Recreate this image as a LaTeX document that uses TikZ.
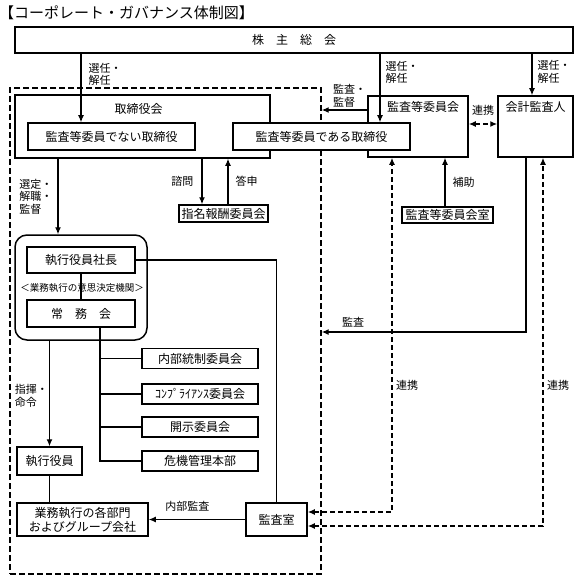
\documentclass[tikz,border=0pt]{standalone}
\usepackage{fontspec}
\setmainfont{Noto Sans CJK JP}
\usetikzlibrary{arrows.meta,positioning}

\begin{document}
\begin{tikzpicture}[x=1pt, y=-1pt,
  box/.style={draw, line width=1.5pt, fill=white, inner sep=0pt, font=\fontsize{12}{14}\selectfont},
  boxlabel/.style={anchor=north, inner sep=0pt, font=\fontsize{12}{14}\selectfont},
  lbl/.style={inner sep=0pt, align=left, font=\fontsize{11}{12.5}\selectfont},
  arr/.style={line width=1.2pt, -{Latex[length=7pt,width=6pt]}},
  dasharr/.style={line width=1.4pt, dash pattern=on 5pt off 3pt, {Latex[length=7pt,width=6pt]}-{Latex[length=7pt,width=6pt]}},
  frame/.style={draw, line width=1.4pt, dash pattern=on 6pt off 3pt, inner sep=0pt}]
\useasboundingbox (0,0) rectangle (581,583);

\node[anchor=west, inner sep=0pt, font=\fontsize{15}{17}\selectfont] (title) at (-1,13) {【コーポレート・ガバナンス体制図】};

% dashed frame of the board side
\node[frame, minimum width=311pt, minimum height=486pt] (boardside) at (165.5,331) {};

\node[box, minimum width=558pt, minimum height=26pt] (soukai) at (294,40) {株　主　総　会};
\node[box, minimum width=255pt, minimum height=63pt,
  label={[boxlabel, yshift=-9pt, xshift=-4pt]north:取締役会}] (torikai) at (142.5,126.5) {};
\node[box, minimum width=167pt, minimum height=27pt] (nondir) at (111.5,136.5) {監査等委員でない取締役};
\node[box, minimum width=100pt, minimum height=61pt,
  label={[boxlabel, yshift=-6pt, xshift=5pt]north:監査等委員会}] (accom) at (418,126.5) {};
\node[box, minimum width=75pt, minimum height=61pt,
  label={[boxlabel, yshift=-6pt]north:会計監査人}] (auditor) at (535.5,126.5) {};
\node[box, minimum width=177pt, minimum height=27pt] (acdir) at (321.5,136.5) {監査等委員である取締役};
\node[box, minimum width=89pt, minimum height=17pt] (nomcom) at (223.5,213.5) {指名報酬委員会};
\node[box, minimum width=91pt, minimum height=16pt] (acoffice) at (447.5,215) {監査等委員会室};

\node[box, rounded corners=12pt, minimum width=132pt, minimum height=105pt] (execgrp) at (81,287.5) {};
\node[box, minimum width=108pt, minimum height=26pt] (president) at (81,260) {執行役員社長};
\node[box, minimum width=108pt, minimum height=27pt] (jomu) at (81,313.5) {常　務　会};
\draw[line width=1.2pt] (president) -- (jomu);
\node[inner sep=0pt, font=\fontsize{9.5}{11}\selectfont] (kikan) at (82,288) {＜業務執行の意思決定機関＞};

\foreach \c/\y/\t in {ic/358.5/内部統制委員会, cp/394/ｺﾝﾌﾟﾗｲｱﾝｽ委員会, dc/427/開示委員会, cm/461/危機管理本部}
  \node[box, minimum width=116pt, minimum height=20pt] (\c) at (200,\y) {\t};
\foreach \c in {ic,cp,dc,cm}
  \draw[line width=1.2pt] (jomu.south -| 100,0) |- (\c.west);

\node[box, minimum width=65pt, minimum height=28pt] (officer) at (49.5,461) {執行役員};
\node[box, minimum width=131pt, minimum height=33pt, align=center] (depts) at (82.5,519.5) {業務執行の各部門\\およびグループ会社};
\node[box, minimum width=61pt, minimum height=33pt] (auditroom) at (276.5,519.5) {監査室};

% appointment
\draw[arr] (soukai.south -| 81,0) -- (nondir.north -| 81,0) node[lbl, pos=0.3, right=7pt] {選任・\\解任};
\draw[arr] (soukai.south -| 380,0) -- (acdir.north -| 380,0) node[lbl, pos=0.27, right=5pt] {選任・\\解任};
\draw[arr] (soukai.south -| 532,0) -- (auditor.north -| 532,0) node[lbl, pos=0.44, right=5pt] {選任・\\解任};

% audit committee
\draw[arr] (accom.west |- 0,110) -- (boardside.east |- 0,110);
\node[lbl, anchor=west] (kansa1) at (333,96) {監査・\\監督};
\draw[dasharr] (accom.east |- 0,124) -- (auditor.west |- 0,124) node[lbl, midway, above=8pt] {連携};
\draw[arr] (acoffice.north -| 445,0) -- (accom.south -| 445,0) node[lbl, midway, right=7pt] {補助};

% board
\draw[arr] (torikai.south -| 58,0) -- (execgrp.north -| 58,0) node[lbl, midway, left=5pt] {選定・\\解職・\\監督};
\draw[arr] (torikai.south -| 202,0) -- (nomcom.north -| 202,0) node[lbl, midway, left=8pt] {諮問};
\draw[arr] (nomcom.north -| 228,0) -- (torikai.south -| 228,0) node[lbl, midway, right=7pt] {答申};

% execution
\draw[arr] (execgrp.south -| officer) -- (officer.north) node[lbl, pos=0.52, left=1pt] {指揮・\\命令};
\draw[line width=1.2pt] (officer.south) -- (depts.north -| officer);
\draw[arr] (auditroom.west) -- (depts.east) node[lbl, pos=0.6, above=8pt] {内部監査};
\draw[line width=1.2pt] (president.east) -| (auditroom.north);

% accounting auditor and cooperation
\draw[arr] (auditor.south -| 526,0) |- (boardside.east |- 0,332);
\node[lbl] (kansa2) at (353,322) {監査};
\draw[dasharr] (auditroom.east |- 0,512) -| (accom.south -| 392,0);
\draw[dasharr] (auditroom.east |- 0,526) -| (auditor.south -| 543,0);
\node[lbl, anchor=west] (renkei1) at (396,385) {連携};
\node[lbl, anchor=west] (renkei2) at (547,385) {連携};
\end{tikzpicture}
\end{document}
